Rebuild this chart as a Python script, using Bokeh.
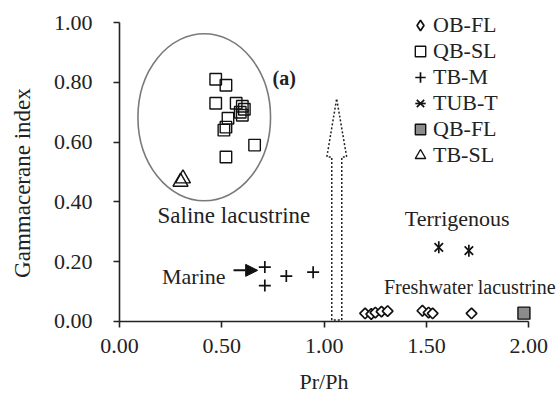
import math
from bokeh.plotting import figure
from bokeh.models import (Range1d, FixedTicker, Label, Legend, LegendItem,
                          Arrow, NormalHead)
from bokeh.embed import file_html
from bokeh.resources import INLINE

FONT = "Liberation Serif"

# ---------------- data ----------------
ob_fl_x = [1.20, 1.23, 1.25, 1.28, 1.31, 1.48, 1.51, 1.53, 1.72]
ob_fl_y = [0.027, 0.025, 0.030, 0.033, 0.035, 0.036, 0.030, 0.027, 0.027]

qb_sl_x = [0.47, 0.52, 0.47, 0.57, 0.60, 0.61, 0.59, 0.60, 0.53, 0.52, 0.51, 0.66, 0.52]
qb_sl_y = [0.81, 0.79, 0.73, 0.73, 0.72, 0.71, 0.70, 0.69, 0.68, 0.65, 0.64, 0.59, 0.55]

tb_m_x = [0.71, 0.71, 0.815, 0.946]
tb_m_y = [0.182, 0.120, 0.152, 0.165]

tub_t_x = [1.56, 1.707]
tub_t_y = [0.248, 0.237]

qb_fl_x = [1.976]
qb_fl_y = [0.028]

tb_sl_x = [0.298, 0.31]
tb_sl_y = [0.467, 0.478]

series_names = ["OB-FL", "QB-SL", "TB-M", "TUB-T", "QB-FL", "TB-SL"]

x_ticks = [0.0, 0.5, 1.0, 1.5, 2.0]
x_tick_labels = ["0.00", "0.50", "1.00", "1.50", "2.00"]
y_ticks = [0.0, 0.2, 0.4, 0.6, 0.8, 1.0]
y_tick_labels = ["0.00", "0.20", "0.40", "0.60", "0.80", "1.00"]

# annotation shapes (data units)
ellipse_cx, ellipse_cy, ellipse_w, ellipse_h = 0.414, 0.683, 0.648, 0.559
hollow_arrow_x = [1.037, 1.037, 1.013, 1.061, 1.110, 1.086, 1.086, 1.037]
hollow_arrow_y = [0.005, 0.55, 0.55, 0.745, 0.55, 0.55, 0.005, 0.005]
marine_arrow = (0.557, 0.171, 0.675, 0.171)

# ---------------- figure ----------------
p = figure(width=557, height=395, output_backend="svg", toolbar_location=None,
           x_range=Range1d(-0.5815, 2.140), y_range=Range1d(-0.2475, 1.0736),
           min_border_left=0, min_border_right=0, min_border_top=0,
           min_border_bottom=0)
p.outline_line_color = None
p.grid.visible = False
p.yaxis[0].fixed_location = 0.0
p.xaxis[0].fixed_location = 0.0

for ax, ticks, labels in ((p.xaxis[0], x_ticks, x_tick_labels),
                          (p.yaxis[0], y_ticks, y_tick_labels)):
    ax.ticker = FixedTicker(ticks=ticks)
    ax.major_label_overrides = {t: l for t, l in zip(ticks, labels)}
    ax.bounds = (ticks[0], ticks[-1])
    ax.axis_line_color = "#222222"
    ax.axis_line_width = 1.6
    ax.major_tick_line_color = "#222222"
    ax.major_tick_line_width = 1.6
    ax.major_tick_out = 6
    ax.major_tick_in = 0
    ax.minor_tick_line_color = None
    ax.major_label_text_font = FONT
    ax.major_label_text_font_size = "22px"
    ax.major_label_text_color = "#222222"

p.xaxis[0].major_label_standoff = 12
p.yaxis[0].major_label_standoff = 21
p.xaxis[0].axis_label = "Pr/Ph"
p.xaxis[0].axis_label_text_font = FONT
p.xaxis[0].axis_label_text_font_size = "22px"
p.xaxis[0].axis_label_text_font_style = "normal"
p.xaxis[0].axis_label_text_color = "#222222"
p.xaxis[0].axis_label_standoff = 12

# ellipse and hollow dotted arrow
p.ellipse(x=[ellipse_cx], y=[ellipse_cy], width=[ellipse_w], height=[ellipse_h],
          fill_color=None, line_color="#7a7a7a", line_width=1.6)
p.patch(hollow_arrow_x, hollow_arrow_y, fill_color=None, line_color="#222222",
        line_width=1.5, line_dash="2 2")

# series
r_ob = p.scatter(ob_fl_x, ob_fl_y, marker="square", size=7.5, angle=math.pi / 4,
                 fill_color="white", line_color="#111111", line_width=1.7)
r_ob_key = p.scatter(ob_fl_x, ob_fl_y, marker="diamond", size=0,
                     fill_color="white", line_color="#111111", line_width=1.7)
r_qbsl = p.scatter(qb_sl_x, qb_sl_y, marker="square", size=11.5,
                   fill_color=None, line_color="#111111", line_width=1.4)
r_tbm = p.scatter(tb_m_x, tb_m_y, marker="cross", size=12,
                  line_color="#111111", line_width=1.7)
r_tubt1 = p.scatter(tub_t_x, tub_t_y, marker="x", size=12,
                    line_color="#111111", line_width=1.7)
r_tubt2 = p.scatter(tub_t_x, tub_t_y, marker="dash", size=12, angle=math.pi / 2,
                    line_color="#111111", line_width=1.7)
r_qbfl = p.scatter(qb_fl_x, qb_fl_y, marker="square", size=12,
                   fill_color="#8c8c8c", line_color="#111111", line_width=1.4)
r_tbsl = p.scatter(tb_sl_x, tb_sl_y, marker="triangle", size=15,
                   fill_color=None, line_color="#111111", line_width=1.4)

# marine arrow
x0, y0, x1, y1 = marine_arrow
p.add_layout(Arrow(end=NormalHead(size=12, fill_color="#111111", line_color="#111111"),
                   x_start=x0, y_start=y0, x_end=x1, y_end=y1,
                   line_color="#111111", line_width=2))

# legend (location = bottom-left corner of the legend box, frame pixels)
renderer_groups = [[r_ob_key], [r_qbsl], [r_tbm], [r_tubt1, r_tubt2], [r_qbfl], [r_tbsl]]
items = [LegendItem(label=n, renderers=rs) for n, rs in zip(series_names, renderer_groups)]
legend = Legend(items=items, location=(407, 227), glyph_width=26, glyph_height=26,
                label_standoff=-2, spacing=0, padding=0, margin=0,
                border_line_color=None, background_fill_alpha=0,
                label_text_font=FONT, label_text_font_size="22px",
                label_text_color="#222222")
p.add_layout(legend)

# text annotations
def add_text(x, y, t, align="left", bold=False, angle=0.0, size="22px"):
    p.add_layout(Label(x=x, y=y, text=t, text_font=FONT, text_font_size=size,
                       text_align=align, text_baseline="middle", angle=angle,
                       text_color="#222222",
                       text_font_style="bold" if bold else "normal"))

add_text(0.748, 0.813, "(a)", bold=True, size="20px")
add_text(0.186, 0.355, "Saline lacustrine", size="23px")
add_text(0.518, 0.149, "Marine", align="right")
add_text(1.650, 0.343, "Terrigenous", align="center")
add_text(1.292, 0.115, "Freshwater lacustrine", size="20px")
add_text(-0.474, 0.463, "Gammacerane index", align="center", angle=math.pi / 2, size="23px")

open("out.html", "w").write(file_html(p, INLINE))
